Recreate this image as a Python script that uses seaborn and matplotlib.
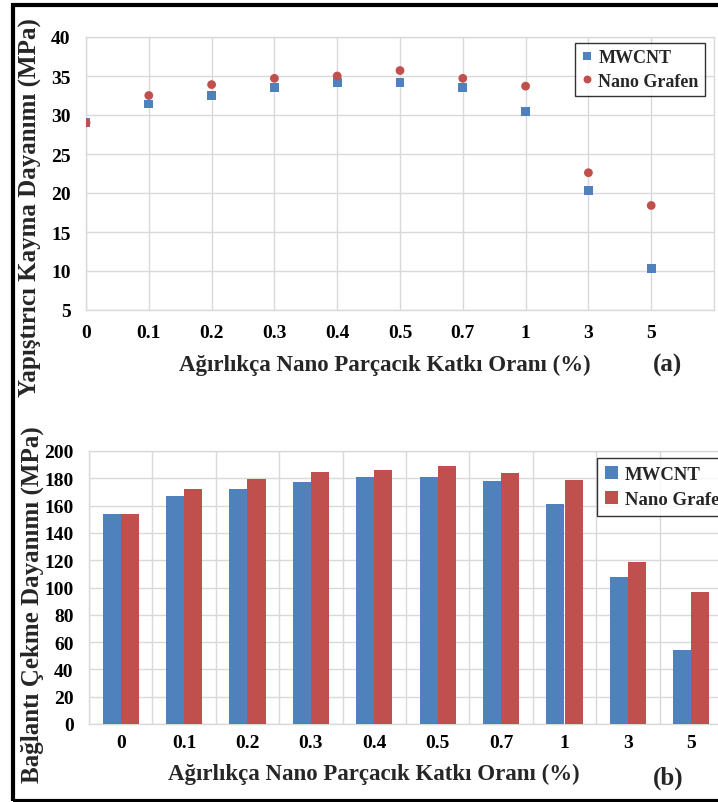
"""Nano katkı oranına göre kayma (a) ve çekme (b) dayanımı grafikleri."""
import matplotlib
matplotlib.use("Agg")
from matplotlib import pyplot as plt
from matplotlib.patches import Rectangle
from matplotlib.ticker import MultipleLocator, FixedLocator
import pandas as pd
import seaborn as sns

# Ağırlıkça katkı oranları (%)
ORANLAR = ["0", "0.1", "0.2", "0.3", "0.4", "0.5", "0.7", "1", "3", "5"]
SERILER = ["MWCNT", "Nano Grafen"]

# (a) yapıştırıcı kayma dayanımı, MPa
KAYMA_MWCNT = [29.0, 31.4, 32.5, 33.5, 34.2, 34.2, 33.5, 30.4, 20.3, 10.3]
KAYMA_GRAFEN = [29.0, 32.5, 33.9, 34.7, 35.0, 35.7, 34.7, 33.7, 22.6, 18.4]

# (b) bağlantı çekme dayanımı, MPa
CEKME_MWCNT = [154, 167, 172, 177, 181, 181, 178, 161, 107.5, 54.5]
CEKME_GRAFEN = [154, 172, 179.5, 184.5, 186, 189, 184, 179, 119, 97]

RENKLER = {"MWCNT": "#4F81BD", "Nano Grafen": "#C0504D"}
GRID = "#D9D9D9"
W, H = 718, 803


def long_table(mwcnt, grafen):
    """İki seriyi seaborn için uzun tabloya çevir."""
    return pd.DataFrame({
        "oran": ORANLAR * 2,
        "seri": [SERILER[0]] * len(ORANLAR) + [SERILER[1]] * len(ORANLAR),
        "deger": mwcnt + grafen,
    })


def style_axes(ax):
    for spine in ax.spines.values():
        spine.set_color(GRID)
        spine.set_linewidth(1)
    ax.tick_params(length=0, labelsize=14, colors="black")
    ax.set_xlabel("")
    ax.set_ylabel("")


sns.set_theme(style="whitegrid")
plt.rcParams["font.family"] = ["Liberation Serif", "DejaVu Serif"]
plt.rcParams["font.weight"] = "bold"
plt.rcParams["grid.color"] = GRID
plt.rcParams["grid.linewidth"] = 1

fig = plt.figure(figsize=(W / 100, H / 100), dpi=100)
fig.patch.set_facecolor("white")

# --- (a) kayma dayanımı, nokta grafiği
ax1 = fig.add_axes([86 / W, 1 - 311 / H, 628 / W, 273 / H])
kayma = long_table(KAYMA_MWCNT, KAYMA_GRAFEN)
sns.scatterplot(
    data=kayma, x="oran", y="deger", hue="seri", style="seri",
    hue_order=SERILER, style_order=SERILER, palette=RENKLER,
    markers={"MWCNT": "s", "Nano Grafen": "o"},
    s=40, linewidth=0, ax=ax1, zorder=3,
)
ax1.set_xlim(0, 10)
ax1.set_ylim(5, 40)
ax1.yaxis.set_major_locator(MultipleLocator(5))
ax1.grid(True, axis="both")
style_axes(ax1)
ax1.tick_params(axis="x", pad=10)
ax1.tick_params(axis="y", pad=11)
sns.move_legend(
    ax1, "upper right", bbox_to_anchor=(705 / W, 1 - 44 / H),
    bbox_transform=fig.transFigure, title=None, frameon=True,
    fancybox=False, borderaxespad=0, fontsize=13, markerscale=0.9,
    handlelength=0.6, handletextpad=0.35, labelspacing=0.35,
    borderpad=0.35, edgecolor="black",
)
ax1.get_legend().get_frame().set_linewidth(1)

# --- (b) çekme dayanımı, çubuk grafiği
ax2 = fig.add_axes([89 / W, 1 - 725 / H, 634 / W, 273 / H])
cekme = long_table(CEKME_MWCNT, CEKME_GRAFEN)
sns.barplot(
    data=cekme, x="oran", y="deger", hue="seri", hue_order=SERILER,
    palette=RENKLER, width=0.57, saturation=1, errorbar=None,
    linewidth=0, ax=ax2, zorder=3,
)
ax2.set_xlim(-0.5, 9.5)
ax2.set_ylim(0, 200)
ax2.yaxis.set_major_locator(MultipleLocator(20))
ax2.xaxis.set_minor_locator(FixedLocator([i - 0.5 for i in range(11)]))
ax2.grid(False, axis="x", which="major")
ax2.grid(True, axis="x", which="minor")
ax2.grid(True, axis="y", which="major")
ax2.set_axisbelow(True)
style_axes(ax2)
ax2.tick_params(which="minor", length=0)
ax2.tick_params(axis="x", pad=7)
ax2.tick_params(axis="y", pad=11)
sns.move_legend(
    ax2, "upper left", bbox_to_anchor=(597 / W, 1 - 459 / H),
    bbox_transform=fig.transFigure, title=None, frameon=True,
    fancybox=False, borderaxespad=0, fontsize=13.5,
    handlelength=0.7, handleheight=0.7, handletextpad=0.4,
    labelspacing=0.45, borderpad=0.4, edgecolor="black",
)
ax2.get_legend().get_frame().set_linewidth(1)

# eksen başlıkları ve etiketler
XLABEL = "Ağırlıkça Nano Parçacık Katkı Oranı (%)"
fig.text(385 / W, 1 - 365 / H, XLABEL, ha="center", va="center", fontsize=16.5)
fig.text(374 / W, 1 - 774 / H, XLABEL, ha="center", va="center", fontsize=16.5)
fig.text(668 / W, 1 - 365 / H, "(a)", ha="center", va="center", fontsize=18)
fig.text(668 / W, 1 - 778 / H, "(b)", ha="center", va="center", fontsize=18)
fig.text(30 / W, 1 - 208 / H, "Yapıştırıcı Kayma Dayanımı (MPa)",
         rotation=90, ha="center", va="center", fontsize=18)
fig.text(32 / W, 1 - 605 / H, "Bağlantı Çekme Dayanımı (MPa)",
         rotation=90, ha="center", va="center", fontsize=18)

# dış çerçeve
fig.add_artist(Rectangle(
    (12.5 / W, 1.5 / H), 1.0, 1 - 7 / H, transform=fig.transFigure,
    fill=False, edgecolor="black", linewidth=3, clip_on=False,
))

fig.savefig("out.png", dpi=100)
